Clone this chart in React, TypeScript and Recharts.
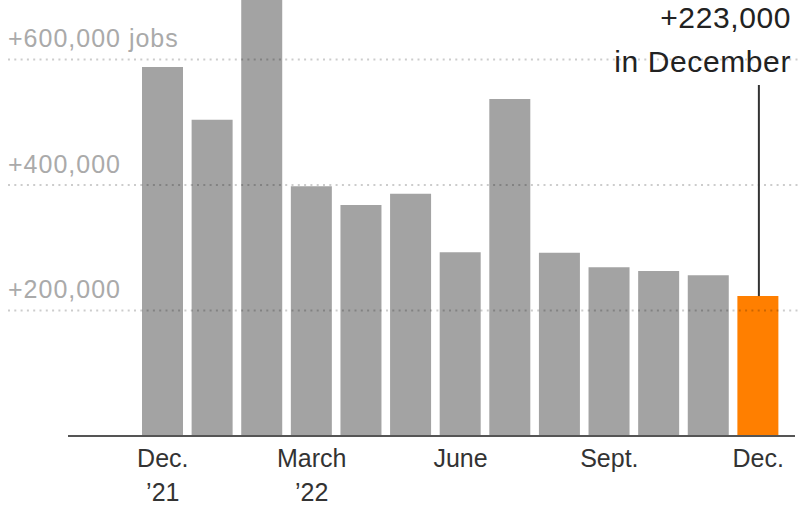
import React from "react";
import { BarChart, Bar, XAxis, YAxis, Cell, ReferenceLine, LabelList } from "recharts";

const categories = [
  "Dec. 2021", "Jan. 2022", "Feb. 2022", "Mar. 2022", "Apr. 2022", "May 2022", "Jun. 2022",
  "Jul. 2022", "Aug. 2022", "Sep. 2022", "Oct. 2022", "Nov. 2022", "Dec. 2022",
];
const jobsAdded = [588000, 504000, 714000, 398000, 368000, 386000, 293000, 537000, 292000, 269000, 263000, 256000, 223000];
const tickLine1: Record<string, string> = {
  "Dec. 2021": "Dec.", "Mar. 2022": "March", "Jun. 2022": "June", "Sep. 2022": "Sept.", "Dec. 2022": "Dec.",
};
const tickLine2: Record<string, string> = { "Dec. 2021": "’21", "Mar. 2022": "’22" };
const gridValues = [200000, 400000, 600000];
const gridLabels = ["+200,000", "+400,000", "+600,000 jobs"];
const annotationLines = ["+223,000", "in December"];

const data = categories.map((c, i) => ({ month: c, jobs: jobsAdded[i] }));
const lastIndex = categories.length - 1;
const FONT = "'Liberation Sans', Arial, Helvetica, sans-serif";

const XTick = (props: any) => {
  const { x, y, payload } = props;
  const l1 = tickLine1[payload.value];
  const l2 = tickLine2[payload.value];
  if (!l1) return null;
  return (
    <g>
      <text x={x} y={y + 31} textAnchor="middle" fontSize={25} fill="#333" fontFamily={FONT}>{l1}</text>
      {l2 && (
        <text x={x} y={y + 65} textAnchor="middle" fontSize={25} fill="#333" fontFamily={FONT}>{l2}</text>
      )}
    </g>
  );
};

const gridShape = (label: string) => (p: any) => (
  <g>
    <line x1={8} x2={800} y1={p.y1} y2={p.y1} stroke="#000" strokeOpacity={0.2} strokeWidth={2} strokeDasharray="2 4.3" />
    <text x={8} y={p.y1 - 12} fontSize={25} letterSpacing={1} fill="#aaa" fontFamily={FONT}>{label}</text>
  </g>
);

const Annotation = (props: any) => {
  const { x, y, width, index } = props;
  if (index !== lastIndex) return null;
  const cx = x + width / 2 + 1;
  return (
    <g>
      <line x1={cx} x2={cx} y1={85} y2={y} stroke="#333" strokeWidth={2} />
      <text x={791} y={28} textAnchor="end" fontSize={30} letterSpacing={0.6} fill="#222" fontFamily={FONT}>{annotationLines[0]}</text>
      <text x={791} y={72} textAnchor="end" fontSize={30} letterSpacing={0.6} fill="#222" fontFamily={FONT}>{annotationLines[1]}</text>
    </g>
  );
};

export default function App() {
  return (
    <div style={{ position: "absolute", left: 0, top: 0, width: 800, height: 508, background: "#fff" }}>
      <BarChart width={800} height={508} data={data} margin={{ top: 0, right: 5, bottom: 0, left: 68 }} barSize={41}>
        <XAxis
          dataKey="month"
          interval={2}
          height={72}
          padding={{ left: 70, right: 12 }}
          axisLine={{ stroke: "#555", strokeWidth: 2 }}
          tickLine={false}
          tickSize={0}
          tickMargin={0}
          tick={<XTick />}
        />
        <YAxis hide domain={[0, 694800]} allowDataOverflow />
        <Bar dataKey="jobs" isAnimationActive={false}>
          {data.map((d, i) => (
            <Cell key={d.month} fill={i === lastIndex ? "#ff7f00" : "#a3a3a3"} />
          ))}
          <LabelList dataKey="jobs" content={<Annotation />} />
        </Bar>
        {gridValues.map((v, i) => (
          <ReferenceLine key={v} y={v} ifOverflow="visible" shape={gridShape(gridLabels[i])} />
        ))}
      </BarChart>
    </div>
  );
}
